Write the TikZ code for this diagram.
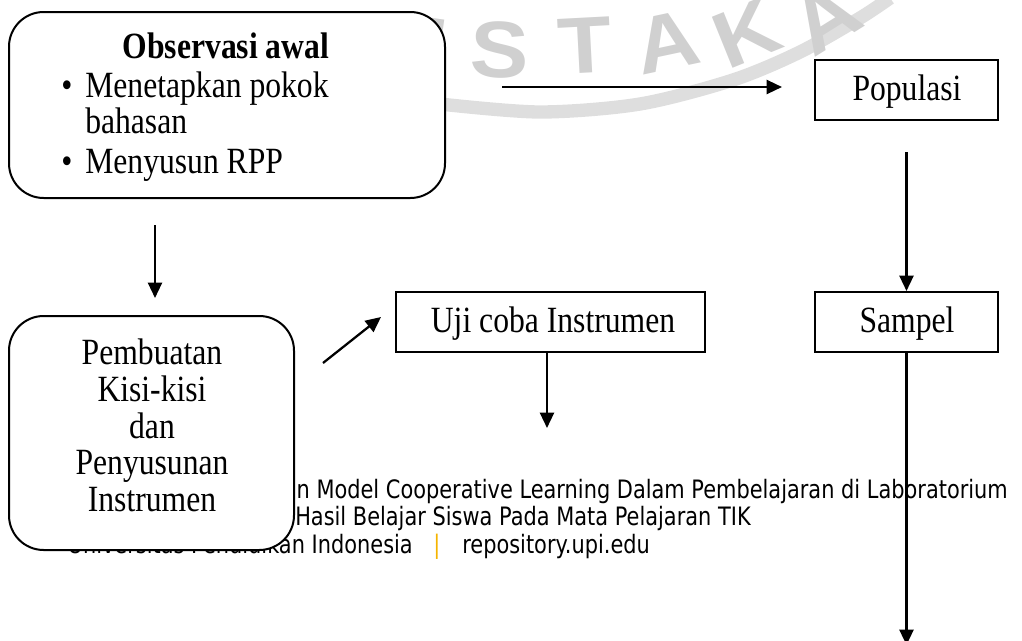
\documentclass[tikz,border=0pt]{standalone}
\usepackage{fontspec}
\setmainfont[FakeStretch=0.855]{Liberation Serif}
\newfontfamily\footfont[FakeStretch=0.825]{DejaVu Sans}
\newfontfamily\wmfont[FakeStretch=1.1]{Liberation Sans}
\usetikzlibrary{arrows.meta,fit}
\definecolor{wmgray}{RGB}{208,208,208}
\definecolor{ringgray}{RGB}{222,222,222}
\definecolor{barcol}{RGB}{245,180,0}
\begin{document}
\begin{tikzpicture}[x=0.75pt,y=-0.75pt,
  box/.style={draw,line width=1.5pt,fill=white,inner sep=0pt},
  rbox/.style={box,rounded corners=26pt},
  arr/.style={line width=1.7pt,-{Triangle[length=11.5pt,width=10.5pt]}},
  txt/.style={inner sep=0pt,font=\fontsize{27.75pt}{30pt}\selectfont},
  foot/.style={inner sep=0pt,font=\footfont\fontsize{19pt}{21pt}\selectfont},
  wm/.style={inner sep=0pt,text=wmgray,font=\wmfont\bfseries\fontsize{60pt}{60pt}\selectfont}]
\useasboundingbox (0,0) rectangle (1022,640);
% watermark
\draw[ringgray,line width=10pt] plot[smooth] coordinates {(440,104) (540,112) (640,104) (733,80) (800,52) (860,18) (890,-2)};
\node[wm,rotate=-8] (wmU) at (415,44) {U};
\node[wm,rotate=-2] (wmS) at (500,50) {S};
\node[wm,rotate=3] (wmT) at (585,46) {T};
\node[wm,rotate=12] (wmA) at (667,42) {A};
\node[wm,rotate=22] (wmK) at (747,33) {K};
\node[wm,rotate=32] (wmA2) at (826,18) {A};
% footer
\node[foot,anchor=base east] (f1) at (1008,498) {n Model Cooperative Learning Dalam Pembelajaran di Laboratorium};
\node[foot,anchor=base west] (f2) at (295,525) {Hasil Belajar Siswa Pada Mata Pelajaran TIK};
\node[foot,anchor=base east] (f3a) at (413,553) {Universitas Pendidikan Indonesia};
\node[foot,anchor=base,text=barcol] (f3b) at (437,553) {|};
\node[foot,anchor=base west] (f3c) at (462,553) {repository.upi.edu};
% boxes
\node[rbox,fit={(9,12) (445,198)}] (obs) {};
\node[rbox,fit={(9,316) (294,550)}] (pemb) {};
\node[box,fit={(396,292) (705,352)}] (uji) {};
\node[box,fit={(815,60) (998,120)}] (pop) {};
\node[box,fit={(815,292) (998,352)}] (sam) {};
% texts
\node[txt,anchor=base] (obsT) at (226,58) {\bfseries Observasi awal};
\node[txt,anchor=base] (bul1) at (67,97) {•};
\node[txt,anchor=base west] (obs1) at (85,97) {Menetapkan pokok};
\node[txt,anchor=base west] (obs2) at (85,133) {bahasan};
\node[txt,anchor=base] (bul2) at (67,173) {•};
\node[txt,anchor=base west] (obs3) at (85,173) {Menyusun RPP};
\node[txt,anchor=base] (pm1) at (152,364) {Pembuatan};
\node[txt,anchor=base] (pm2) at (152,401) {Kisi-kisi};
\node[txt,anchor=base] (pm3) at (152,438) {dan};
\node[txt,anchor=base] (pm4) at (152,474) {Penyusunan};
\node[txt,anchor=base] (pm5) at (152,511) {Instrumen};
\node[txt,anchor=base] (ujiT) at (553,332) {Uji coba Instrumen};
\node[txt,anchor=base] (popT) at (907,100) {Populasi};
\node[txt,anchor=base] (samT) at (907,332) {Sampel};
% connectors
\coordinate (o2p) at (502,87);
\coordinate (pin) at (782,87);
\draw[arr] (o2p) -- (pin);
\draw[arr] (sam.north |- 0,152) -- (sam.north);
\coordinate (send) at (906.5,645);
\draw[arr] (sam.south) -- (send);
\coordinate (op1) at (155,225);
\coordinate (op2) at (155,298);
\draw[arr] (op1) -- (op2);
\coordinate (pk1) at (323,363);
\coordinate (pk2) at (381,317);
\draw[arr] (pk1) -- (pk2);
\coordinate (uend) at (547,428);
\draw[arr] (uend |- uji.south) -- (uend);
\end{tikzpicture}
\end{document}
